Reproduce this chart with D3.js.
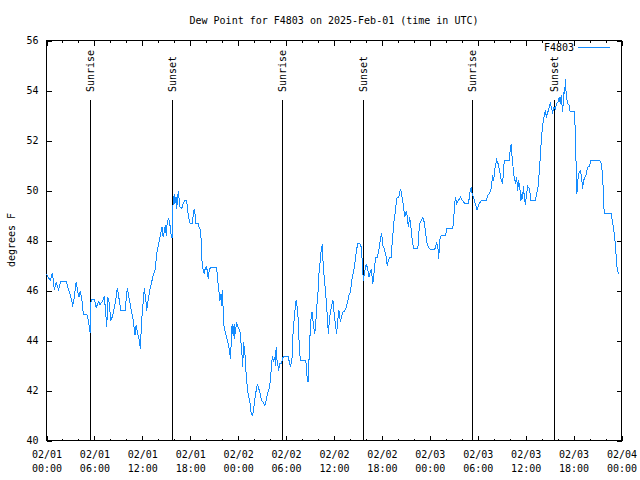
<!DOCTYPE html>
<html>
<head>
<meta charset="utf-8">
<script src="https://cdn.jsdelivr.net/npm/d3@7"></script>
<style>
  html, body { margin: 0; padding: 0; background: #fff; }
  svg { display: block; }
  text { font-family: "DejaVu Sans Mono", "Liberation Mono", monospace; font-size: 10px; fill: #000; }
</style>
</head>
<body>
<svg id="chart" width="640" height="480"></svg>
<script>
// ---------------- DATA ----------------
const chartTitle = "Dew Point for F4803 on 2025-Feb-01 (time in UTC)";
const seriesName = "F4803";
const yAxisLabel = "degrees F";
const startTime = "2025-02-01T00:00:00Z";
const endTime = "2025-02-04T00:00:00Z";
const yTickValues = [40, 42, 44, 46, 48, 50, 52, 54, 56];

// minutes after 2025-02-01 00:00 UTC
const obsMinutes = [
  0,5,28,45,58,73,90,108,148,172,190,196,208,223,243,253,265,277,303,315,328,
  335,360,373,390,403,423,435,448,453,460,470,483,498,508,523,532,545,558,590,598,607,615,633,648,658,665,673,685,695,705,715,727,735,748,753,765,778,790,798,815,823,832,843,858,868,877,892,900,907,918,928,935,943,
  950,960,965,973,978,982,990,1003,1015,1027,1038,1053,1060,1070,1080,1095,1102,1110,1117,1123,1140,1147,1158,1162,1165,1173,1185,1192,1203,1215,1222,1233,1278,1285,1295,1303,1308,1315,1320,1327,1333,1340,1350,1360,1370,1378,1383,1390,1395,1402,1410,1413,1420,1430,1440,1453,1460,1470,1473,1483,1485,1495,1498,1505,1513,1522,1530,1537,1545,1555,1563,1573,1585,1595,1605,1615,1627,1640,1650,1660,1675,1685,1690,1698,1705,1715,1720,1725,1730,1740,1743,1753,1765,
  1777,1790,1815,1822,1833,1840,1845,1852,1865,1875,1882,1890,1895,1900,1908,1948,1953,1957,1965,1970,1978,1985,1995,2008,2015,2023,2030,2040,2047,2058,2065,2073,2077,2088,2095,2103,2110,2118,2125,2133,2143,2152,2160,2173,2180,2188,2197,2208,2218,2227,2242,2253,2263,2272,2283,2293,2308,2320,2328,2340,2353,2365,2370,2377,
  2380,2390,2403,2415,2422,2433,2440,2452,2460,2473,2485,2497,2510,2518,2527,2540,2553,2560,2565,2578,2590,2598,2605,2610,2620,2628,2635,2647,2653,2660,2665,2673,2683,2692,2703,2710,2718,2728,2735,2743,2748,2758,2790,2795,2803,2815,2827,2838,2848,2857,2865,2872,2885,2915,2923,2932,2943,2947,2953,2965,2998,3007,3052,3060,3067,3073,3082,3110,3125,3140,3172,3178,3190,3195,
  3202,3208,3217,3235,3245,3258,3265,3303,3315,3328,3340,3345,3352,3360,3365,3373,3382,3393,3403,3415,3427,3433,3440,3478,3483,3490,3495,3502,3510,3523,3532,3540,3547,3558,3565,3570,3577,3583,3590,3598,3607,3615,3628,3640,3673,3682,3693,3703,3710,3718,3727,3740,3748,3757,3765,3772,3785,3793,3802,3813,
  3823,3832,3843,3853,3860,3868,3877,3885,3890,3895,3898,3903,3907,3915,3928,3933,3965,3973,3978,3982,3985,3990,3997,4010,4020,4027,4035,4045,4053,4065,4078,4090,4158,4168,4177,4183,4185,4195,4243,4248,4255,4266,4273,4278,4281,4288,4296
];

const dewpointF = [
  46.67,46.6,46.4,46.7,46.04,46.33,46.04,46.36,46.36,45.93,45.6,45.36,45.7,46.33,45.73,45.97,45.67,45.03,45.03,44.8,44.3,
  45.64,45.64,45.3,45.56,45.43,45.6,45.76,44.87,44.53,45.73,45.53,44.8,45.0,45.27,45.73,46.1,45.67,45.2,45.2,45.6,46.1,45.84,45.33,44.93,44.53,44.2,44.6,44.27,44.07,43.67,44.8,45.6,46.1,45.53,45.2,45.67,46.07,46.33,46.53,46.8,47.2,47.6,47.87,48.27,48.53,48.13,48.6,48.2,48.73,48.87,48.6,48.27,48.1,
  49.4,49.87,49.47,49.73,49.27,49.53,49.96,49.33,49.27,49.47,49.6,49.6,49.2,48.87,48.67,48.67,49.0,49.27,49.0,48.67,48.67,48.53,48.4,48.0,47.33,46.93,46.67,46.87,46.96,46.47,46.8,46.93,46.93,46.47,46.0,45.6,45.87,45.4,46.0,45.3,44.6,44.4,44.2,44.0,43.73,43.47,43.27,44.27,44.67,44.2,44.67,44.07,44.47,44.69,44.53,44.4,44.0,43.33,42.96,43.93,43.6,43.33,42.8,42.33,41.93,41.67,41.47,41.13,41.0,41.13,41.6,41.93,42.27,42.07,41.87,41.6,41.53,41.4,41.6,41.87,42.13,42.53,43.07,43.36,43.2,43.33,43.0,43.73,43.27,42.96,42.8,43.09,43.07,
  43.33,43.36,43.36,43.2,42.93,43.13,43.33,44.27,45.13,45.6,45.4,44.93,44.27,43.67,43.2,43.2,42.93,42.6,42.33,42.93,44.0,44.8,45.13,44.53,44.27,44.67,45.33,45.93,46.67,47.27,47.67,47.87,47.2,46.4,46.07,45.47,44.93,44.27,44.8,45.13,45.4,45.63,45.13,44.53,44.27,44.8,45.2,44.73,45.0,45.13,45.2,45.33,45.57,45.8,45.93,46.4,46.8,47.2,47.6,47.89,47.89,47.73,47.33,46.73,
  46.4,46.73,47.07,46.8,46.53,46.73,46.87,46.27,46.67,47.33,47.33,47.6,48.13,48.29,47.8,47.63,47.33,47.0,47.13,47.31,47.33,48.0,48.4,48.73,49.13,49.53,49.73,49.73,49.9,50.07,49.93,49.67,49.33,48.93,49.17,49.0,48.53,48.93,48.67,48.27,48.0,47.67,47.67,48.13,48.67,48.8,48.93,48.73,48.33,47.93,47.8,47.71,47.63,47.63,47.73,47.93,47.6,47.27,48.0,48.2,48.2,48.47,48.47,48.93,49.47,49.73,49.49,49.73,49.6,49.49,49.49,49.87,50.13,49.93,
  49.8,49.73,49.53,49.23,49.4,49.53,49.6,49.6,49.8,49.89,50.07,50.29,50.6,50.4,50.73,51.0,51.23,51.07,50.8,50.47,50.27,50.8,51.2,51.2,51.6,51.84,51.53,51.13,50.67,50.27,50.53,50.0,50.4,50.0,49.6,49.87,49.67,50.16,49.73,49.43,49.87,50.16,50.07,49.6,49.6,49.87,50.13,50.8,51.33,52.07,52.6,53.0,53.2,52.91,53.13,53.2,53.53,53.33,53.13,53.33,
  53.27,53.47,53.53,53.73,53.47,53.83,53.13,53.67,54.13,53.87,54.44,54.0,53.73,53.47,53.4,53.17,53.17,52.4,51.2,50.67,49.87,50.27,50.67,50.77,50.6,50.07,50.4,50.53,50.6,50.93,50.96,51.2,51.2,51.07,50.67,50.0,49.4,49.07,49.07,48.87,48.67,48.27,47.87,47.53,47.23,46.87,46.67
];

const sunEventTimes = ["2025-02-01T05:30Z","2025-02-01T15:45Z","2025-02-02T05:30Z","2025-02-02T15:38Z","2025-02-03T05:22Z","2025-02-03T15:37Z"];
const sunEventLabels = ["Sunrise","Sunset","Sunrise","Sunset","Sunrise","Sunset"];

// ---------------- CHART ----------------
(function draw() {
  const svg = d3.select("#chart");
  const pLeft = 46.5, pRight = 621.5, pTop = 40.5, pBottom = 440.5;
  const lineColor = "#148cff";

  const t0 = new Date(startTime), t1 = new Date(endTime);
  const x = d3.scaleUtc().domain([t0, t1]).range([pLeft, pRight]);
  const y = d3.scaleLinear().domain([40, 56]).range([pBottom, pTop]);

  const data = obsMinutes.map((m, i) => ({ t: new Date(t0.getTime() + m * 60000), v: dewpointF[i] }));

  svg.append("text").attr("x", (pLeft + pRight) / 2).attr("y", 23.5)
    .attr("text-anchor", "middle").text(chartTitle);

  svg.append("text").attr("transform", "translate(15,240) rotate(-90)")
    .attr("text-anchor", "middle").text(yAxisLabel);

  const majorX = d3.utcHour.every(6).range(t0, d3.utcMinute.offset(t1, 1));
  const minorX = d3.utcHour.every(2).range(t0, d3.utcMinute.offset(t1, 1));

  function styleAxis(g) {
    g.select(".domain").remove();
    g.selectAll(".tick line").attr("stroke", "#000").attr("shape-rendering", "crispEdges");
  }

  const gB = svg.append("g").attr("transform", `translate(0,${pBottom})`)
    .call(d3.axisBottom(x).tickValues(minorX).tickSize(-2).tickFormat(""));
  styleAxis(gB);
  const fmt = d3.utcFormat("%m/%d|%H:%M");
  const gBM = svg.append("g").attr("transform", `translate(0,${pBottom})`)
    .call(d3.axisBottom(x).tickValues(majorX).tickSize(-5).tickPadding(0).tickFormat(fmt));
  styleAxis(gBM);
  gBM.selectAll(".tick text").each(function(d) {
    const parts = fmt(d).split("|");
    const t = d3.select(this).text(null).attr("y", 0).attr("dy", null)
      .style("font-family", "DejaVu Sans Mono, monospace").style("font-size", "10px").attr("fill", "#000");
    t.append("tspan").attr("x", 0).attr("y", 17.5).text(parts[0]);
    t.append("tspan").attr("x", 0).attr("y", 31).text(parts[1]);
  });

  const gT = svg.append("g").attr("transform", `translate(0,${pTop})`)
    .call(d3.axisTop(x).tickValues(minorX).tickSize(-2).tickFormat(""));
  styleAxis(gT);
  const gTM = svg.append("g").attr("transform", `translate(0,${pTop})`)
    .call(d3.axisTop(x).tickValues(majorX).tickSize(-5).tickFormat(""));
  styleAxis(gTM);

  const gL = svg.append("g").attr("transform", `translate(${pLeft},0)`)
    .call(d3.axisLeft(y).tickValues(yTickValues).tickSize(-5).tickPadding(8).tickFormat(d3.format("d")));
  styleAxis(gL);
  gL.selectAll(".tick text").style("font-family", "DejaVu Sans Mono, monospace").style("font-size", "10px").attr("fill", "#000");

  const gR = svg.append("g").attr("transform", `translate(${pRight},0)`)
    .call(d3.axisRight(y).tickValues(yTickValues).tickSize(-5).tickFormat(""));
  styleAxis(gR);

  svg.append("rect").attr("x", pLeft).attr("y", pTop).attr("width", pRight - pLeft).attr("height", pBottom - pTop)
    .attr("fill", "none").attr("stroke", "#000").attr("shape-rendering", "crispEdges");

  const ev = sunEventTimes.map((s, i) => ({ t: new Date(s), label: sunEventLabels[i] }));
  const evG = svg.append("g");
  evG.selectAll("line").data(ev).join("line")
    .attr("x1", d => Math.floor(x(d.t)) + 0.5).attr("x2", d => Math.floor(x(d.t)) + 0.5)
    .attr("y1", 99.5).attr("y2", pBottom)
    .attr("stroke", "#000").attr("shape-rendering", "crispEdges");
  evG.selectAll("text").data(ev).join("text")
    .attr("transform", d => `translate(${Math.floor(x(d.t)) + 0.5},92) rotate(-90)`)
    .attr("dy", "0.35em").attr("text-anchor", "start").text(d => d.label);

  const line = d3.line().x(d => x(d.t)).y(d => y(d.v));
  svg.append("path").datum(data).attr("d", line)
    .attr("fill", "none").attr("stroke", lineColor).attr("stroke-width", 1)
    .attr("shape-rendering", "crispEdges");

  svg.append("text").attr("x", 574).attr("y", 51).attr("text-anchor", "end").text(seriesName);
  svg.append("line").attr("x1", 578).attr("x2", 610).attr("y1", 47.5).attr("y2", 47.5)
    .attr("stroke", lineColor).attr("shape-rendering", "crispEdges");
})();
</script>
</body>
</html>
